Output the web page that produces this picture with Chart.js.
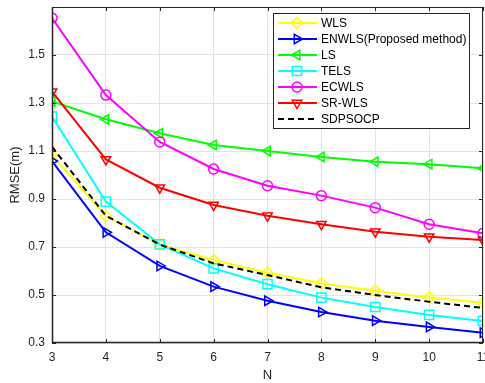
<!DOCTYPE html>
<html>
<head>
<meta charset="utf-8">
<script src="https://cdn.jsdelivr.net/npm/chart.js@4"></script>
<style>
  html, body { margin: 0; padding: 0; background: #fff; overflow: hidden; }
  #wrap { width: 485px; height: 383px; }
</style>
</head>
<body>
<div id="wrap"><canvas id="myChart" width="485" height="383"></canvas></div>
<script>
// values
const nValues = [3, 4, 5, 6, 7, 8, 9, 10, 11];
const wls    = [1.083, 0.829, 0.711, 0.646, 0.593, 0.549, 0.518, 0.490, 0.468];
const enwls  = [1.058, 0.761, 0.621, 0.535, 0.476, 0.429, 0.393, 0.367, 0.343];
const ls     = [1.306, 1.232, 1.174, 1.125, 1.100, 1.075, 1.055, 1.045, 1.028];
const tels   = [1.243, 0.889, 0.711, 0.611, 0.545, 0.489, 0.450, 0.417, 0.392];
const ecwls  = [1.654, 1.333, 1.138, 1.025, 0.955, 0.914, 0.864, 0.795, 0.757];
const srwls  = [1.347, 1.065, 0.947, 0.875, 0.830, 0.795, 0.764, 0.743, 0.729];
const sdpsocp = [1.118, 0.830, 0.710, 0.632, 0.583, 0.532, 0.500, 0.472, 0.446];

const seriesNames = ['WLS', 'ENWLS(Proposed method)', 'LS', 'TELS', 'ECWLS', 'SR-WLS', 'SDPSOCP'];
const seriesValues = [wls, enwls, ls, tels, ecwls, srwls, sdpsocp];
const seriesColors = ['#ffff00', '#0000ff', '#00ff00', '#00ffff', '#ff00ff', '#ff0000', '#000000'];
const seriesMarkers = ['rectRot', 'triangle', 'triangle', 'rect', 'circle', 'triangle', false];
const markerRotation = [0, 90, -90, 0, 0, 180, 0];
const markerRadius = [5.5, 5.5, 5.5, 6.5, 5, 5.5, 0];

const textColor = '#262626';
const fontFam = '"Liberation Sans", Arial, sans-serif';

function makeDatasets(){
  let ds = [];
  for (var i = 0; i < seriesNames.length; i++){
    ds.push({
      label: seriesNames[i],
      data: nValues.map((n, k) => ({x: n, y: seriesValues[i][k]})),
      borderColor: seriesColors[i],
      backgroundColor: 'transparent',
      borderWidth: 2,
      borderDash: i === 6 ? [6, 4] : [],
      pointStyle: seriesMarkers[i],
      pointRotation: markerRotation[i],
      pointRadius: markerRadius[i],
      pointBorderWidth: 1.5,
      pointBackgroundColor: 'transparent',
      pointBorderColor: seriesColors[i],
      tension: 0,
      order: seriesNames.length - 1 - i
    });
  }
  return ds;
}

// box + inward ticks like the matlab axes
const framePlugin = {
  id: 'frame',
  afterDatasetsDraw(chart){
    const ctx = chart.ctx;
    const a = chart.chartArea;
    const xs = chart.scales.x, ys = chart.scales.y;
    ctx.save();
    ctx.strokeStyle = textColor;
    ctx.lineWidth = 1;
    ctx.beginPath();
    ctx.rect(a.left + 0.5, a.top + 0.5, a.right - a.left - 1, a.bottom - a.top - 1);
    xs.ticks.forEach(t => {
      const px = Math.round(xs.getPixelForValue(t.value)) + 0.5;
      ctx.moveTo(px, a.bottom); ctx.lineTo(px, a.bottom - 4);
      ctx.moveTo(px, a.top); ctx.lineTo(px, a.top + 4);
    });
    ys.ticks.forEach(t => {
      const py = Math.round(ys.getPixelForValue(t.value)) + 0.5;
      ctx.moveTo(a.left, py); ctx.lineTo(a.left + 4, py);
      ctx.moveTo(a.right, py); ctx.lineTo(a.right - 4, py);
    });
    ctx.stroke();
    ctx.lineWidth = 1.5;
    ctx.beginPath();
    ctx.moveTo(a.left, a.bottom - 0.5); ctx.lineTo(a.right, a.bottom - 0.5);
    ctx.moveTo(a.left + 0.5, a.top); ctx.lineTo(a.left + 0.5, a.bottom);
    ctx.stroke();
    ctx.restore();
  }
};

// legend box inside the plot (top right)
const legendPlugin = {
  id: 'boxLegend',
  afterDraw(chart){
    const ctx = chart.ctx;
    const bx = 273, by = 13, bw = 196, bh = 115;
    ctx.save();
    ctx.fillStyle = '#ffffff';
    ctx.fillRect(bx, by, bw, bh);
    ctx.strokeStyle = textColor;
    ctx.lineWidth = 1;
    ctx.strokeRect(bx + 0.5, by + 0.5, bw, bh);
    ctx.font = '12px ' + fontFam;
    ctx.textBaseline = 'middle';
    ctx.fillStyle = '#000';
    chart.data.datasets.forEach((d, i) => {
      const y = by + 10 + i * 16;
      ctx.strokeStyle = d.borderColor;
      ctx.lineWidth = 2;
      ctx.setLineDash(d.borderDash);
      ctx.beginPath();
      ctx.moveTo(278, y); ctx.lineTo(317, y);
      ctx.stroke();
      ctx.setLineDash([]);
      if (d.pointStyle){
        ctx.lineWidth = 1.5;
        ctx.fillStyle = 'transparent';
        Chart.helpers.drawPoint(ctx, {pointStyle: d.pointStyle, rotation: d.pointRotation, radius: d.pointRadius, borderWidth: 1.5}, 297, y);
      }
      ctx.fillStyle = '#000';
      ctx.fillText(d.label, 321, y + 1);
    });
    ctx.restore();
  }
};

const ctx = document.getElementById('myChart');
const myChart = new Chart(ctx, {
  type: 'line',
  data: { datasets: makeDatasets() },
  options: {
    responsive: false,
    maintainAspectRatio: false,
    animation: false,
    layout: { autoPadding: false, padding: { top: 7, right: 2, left: 0, bottom: 0 } },
    plugins: { legend: { display: false }, tooltip: { enabled: false } },
    scales: {
      x: {
        type: 'linear',
        min: 3, max: 11,
        ticks: { stepSize: 1, color: textColor, font: { size: 12, family: fontFam }, padding: 7, maxRotation: 0 },
        grid: { color: '#e3e3e3', drawTicks: false },
        border: { display: false },
        title: { display: true, text: 'N', color: textColor, font: { size: 13, family: fontFam }, padding: { top: 0, bottom: 0 } },
        afterFit(scale){ scale.height = 40; scale.paddingRight = 0; scale.paddingLeft = 0; }
      },
      y: {
        min: 0.3, max: 1.7,
        ticks: {
          stepSize: 0.2, color: textColor, font: { size: 12, family: fontFam }, padding: 7,
          callback: v => v > 1.6 ? '' : v.toFixed(1)
        },
        grid: { color: '#e3e3e3', drawTicks: false },
        border: { display: false },
        title: { display: true, text: 'RMSE(m)', color: textColor, font: { size: 13, family: fontFam }, padding: { top: 8, bottom: 0 } },
        afterFit(scale){ scale.width = 52; scale.paddingTop = 0; scale.paddingBottom = 0; }
      }
    }
  },
  plugins: [framePlugin, legendPlugin]
});
</script>
</body>
</html>
